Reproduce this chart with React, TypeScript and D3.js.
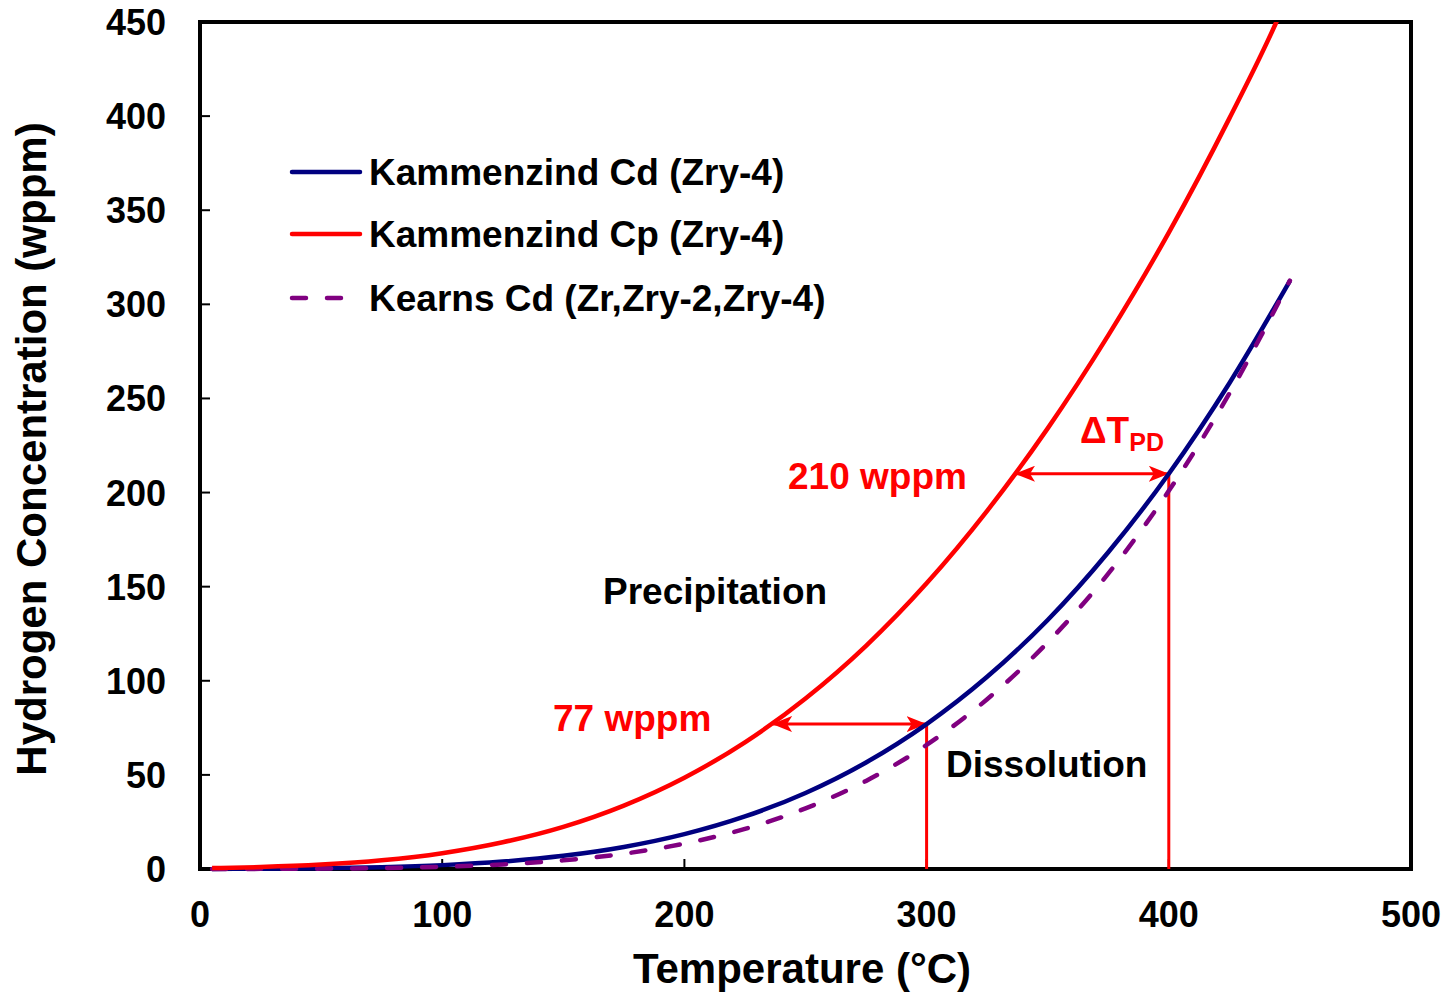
import React from "react";
import * as d3 from "d3";

// Temperatures (°C) at which the curves were read
const tempsCp = [5, 25, 50, 75, 100, 125, 150, 175, 200, 225, 250, 275, 300, 325, 350, 375, 400, 425, 444, 445];
const kammenzindCp = [0.49, 1.04, 2.33, 4.62, 8.4, 14.2, 22.4, 33.7, 48.5, 67.3, 90.6, 118.6, 151.8, 190.3, 234.1, 283.5, 338.1, 398.8, 448.8, 451.7];

const tempsCd = [5, 25, 50, 75, 100, 125, 150, 175, 200, 225, 250, 275, 300, 325, 350, 375, 400, 425, 450];
const kammenzindCd = [0.06, 0.15, 0.41, 0.98, 2.06, 3.95, 7.0, 11.7, 18.5, 27.9, 40.4, 56.6, 77, 102.1, 132.3, 168.3, 210, 258.1, 312.5];
const kearnsCd = [0.02, 0.07, 0.2, 0.51, 1.18, 2.43, 4.61, 8.12, 13.5, 21.3, 32.2, 46.8, 65.9, 90.2, 120.4, 156.9, 200.9, 252.6, 312.6];

const xTicks = [0, 100, 200, 300, 400, 500];
const yTicks = [0, 50, 100, 150, 200, 250, 300, 350, 400, 450];

// Hysteresis annotations: concentration, precipitation temperature, dissolution temperature
const hystC = [77, 210];
const hystTp = [236.2, 336.5];
const hystTd = [300, 400];

const legendLabels = ["Kammenzind Cd (Zry-4)", "Kammenzind Cp (Zry-4)", "Kearns Cd (Zr,Zry-2,Zry-4)"];

const FONT = "'Liberation Sans', Arial, Helvetica, sans-serif";
const RED = "#FF0000";
const NAVY = "#000080";
const PURPLE = "#800080";

export default function App() {
  const W = 1451, H = 993;
  const L = 200, R = 1411, T = 22, B = 869;
  const x = d3.scaleLinear().domain([0, 500]).range([L, R]);
  const y = d3.scaleLinear().domain([0, 450]).range([B, T]);

  const line = d3
    .line<[number, number]>()
    .x((d) => x(d[0]))
    .y((d) => y(d[1]))
    .curve(d3.curveMonotoneX);

  const cpPts = tempsCp.map((t, i) => [t, kammenzindCp[i]] as [number, number]);
  const cdPts = tempsCd.map((t, i) => [t, kammenzindCd[i]] as [number, number]);
  const kePts = tempsCd.map((t, i) => [t, kearnsCd[i]] as [number, number]);

  const legendY = [172, 234, 298];
  const legendColors = [NAVY, RED, PURPLE];

  return (
    <svg width={W} height={H} style={{ position: "absolute", left: 0, top: 0, background: "#fff" }} fontFamily={FONT}>
      <defs>
        <clipPath id="plot">
          <rect x={L} y={T} width={R - L} height={B - T + 4} />
        </clipPath>
        <marker id="arr" viewBox="0 0 20 16" refX="19" refY="8" markerWidth="20" markerHeight="16" markerUnits="userSpaceOnUse" orient="auto-start-reverse">
          <path d="M0,0 L20,8 L0,16 L5,8 Z" fill={RED} />
        </marker>
      </defs>

      {/* frame */}
      <rect x={L} y={T} width={R - L} height={B - T} fill="none" stroke="#000" strokeWidth={4} />

      {/* ticks (inside) */}
      {yTicks.map((v) => (
        <line key={"yt" + v} x1={L} x2={L + 10} y1={y(v)} y2={y(v)} stroke="#000" strokeWidth={2} />
      ))}
      {xTicks.map((v) => (
        <line key={"xt" + v} x1={x(v)} x2={x(v)} y1={B} y2={B - 10} stroke="#000" strokeWidth={2} />
      ))}

      {/* hysteresis annotation lines */}
      {hystC.map((c, i) => (
        <g key={"h" + i}>
          <line x1={x(hystTd[i])} x2={x(hystTd[i])} y1={y(c)} y2={y(0)} stroke={RED} strokeWidth={3} />
          <line
            x1={x(hystTp[i]) + 1}
            x2={x(hystTd[i]) - 1}
            y1={y(c)}
            y2={y(c)}
            stroke={RED}
            strokeWidth={3}
            markerStart="url(#arr)"
            markerEnd="url(#arr)"
          />
        </g>
      ))}

      {/* curves */}
      <g clipPath="url(#plot)" fill="none" strokeLinejoin="round">
        <path d={line(cdPts) || ""} stroke={NAVY} strokeWidth={4.5} />
        <path d={line(kePts) || ""} stroke={PURPLE} strokeWidth={4.5} strokeDasharray="14 21" strokeLinecap="round" />
        <path d={line(cpPts) || ""} stroke={RED} strokeWidth={4.5} />
      </g>

      {/* tick labels */}
      {yTicks.map((v) => (
        <text key={"yl" + v} x={166} y={y(v) + 13} textAnchor="end" fontSize={36} fontWeight="bold">
          {v}
        </text>
      ))}
      {xTicks.map((v) => (
        <text key={"xl" + v} x={x(v)} y={927} textAnchor="middle" fontSize={36} fontWeight="bold">
          {v}
        </text>
      ))}

      {/* axis titles */}
      <text x={802} y={983} textAnchor="middle" fontSize={42} fontWeight="bold">
        Temperature (°C)
      </text>
      <text transform="translate(46,449) rotate(-90)" textAnchor="middle" fontSize={42} fontWeight="bold">
        Hydrogen Concentration (wppm)
      </text>

      {/* legend */}
      {legendLabels.map((lab, i) => (
        <g key={"lg" + i}>
          <line
            x1={292}
            x2={360}
            y1={legendY[i]}
            y2={legendY[i]}
            stroke={legendColors[i]}
            strokeWidth={4.5}
            strokeLinecap="round"
            strokeDasharray={i === 2 ? "14 21" : undefined}
          />
          <text x={369} y={legendY[i] + 13} fontSize={37} fontWeight="bold">
            {lab}
          </text>
        </g>
      ))}

      {/* annotations */}
      <text x={553} y={731} fontSize={37} fontWeight="bold" fill={RED}>
        {hystC[0]} wppm
      </text>
      <text x={788} y={489} fontSize={37} fontWeight="bold" fill={RED}>
        {hystC[1]} wppm
      </text>
      <text x={1080} y={443} fontSize={37} fontWeight="bold" fill={RED}>
        ΔT
        <tspan fontSize={25} dy={8}>PD</tspan>
      </text>
      <text x={603} y={604} fontSize={37} fontWeight="bold">
        Precipitation
      </text>
      <text x={946} y={777} fontSize={37} fontWeight="bold">
        Dissolution
      </text>
    </svg>
  );
}
